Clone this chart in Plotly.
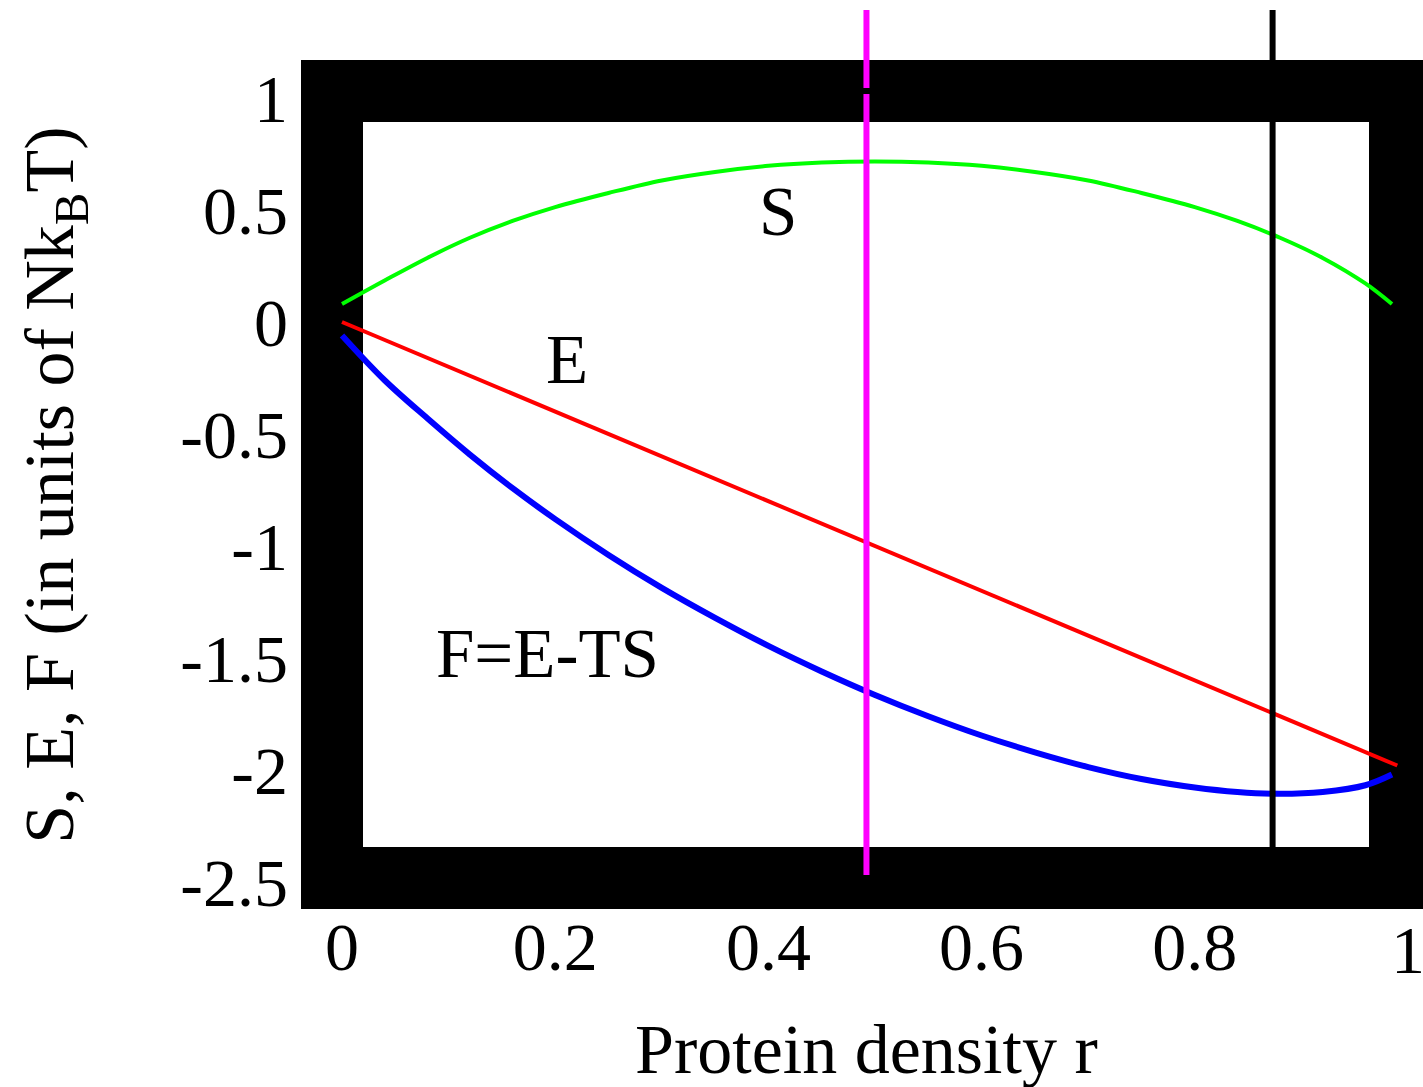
import plotly.graph_objects as go

# --- dados ---
rho = [0.0, 0.04, 0.08, 0.12, 0.16, 0.2, 0.25, 0.3, 0.35, 0.4, 0.45, 0.5,
       0.55, 0.6, 0.65, 0.7, 0.75, 0.8, 0.84, 0.88, 0.92, 0.96, 0.985]
S = [0.08, 0.185, 0.286, 0.376, 0.451, 0.513, 0.576, 0.632, 0.670, 0.697, 0.712, 0.717,
     0.712, 0.697, 0.670, 0.632, 0.576, 0.513, 0.451, 0.376, 0.286, 0.172, 0.08]
F = [-0.06, -0.26, -0.43, -0.592, -0.742, -0.880, -1.040, -1.187, -1.321, -1.446, -1.560, -1.665,
     -1.760, -1.846, -1.921, -1.987, -2.040, -2.078, -2.098, -2.106, -2.098, -2.068, -2.02]
rho_E = [0.0, 0.25, 0.5, 0.75, 0.99]
E = [0.0, -0.50, -1.00, -1.50, -1.98]

rho_magenta = 0.492
rho_black = 0.873

x_ticks = [0, 0.2, 0.4, 0.6, 0.8, 1]
x_labels = ["0", "0.2", "0.4", "0.6", "0.8", "1"]
y_ticks = [1, 0.5, 0, -0.5, -1, -1.5, -2, -2.5]
y_labels = ["1", "0.5", "0", "-0.5", "-1", "-1.5", "-2", "-2.5"]

FONT = "Liberation Serif"

fig = go.Figure()

# curvas
fig.add_trace(go.Scatter(x=rho, y=S, mode='lines', line=dict(color='#00ff00', width=4, shape='spline')))
fig.add_trace(go.Scatter(x=rho_E, y=E, mode='lines', line=dict(color='#ff0000', width=4)))
fig.add_trace(go.Scatter(x=rho, y=F, mode='lines', line=dict(color='#0000ff', width=6, shape='spline')))

# moldura grossa preta
bx = 62 / 1122
by = 62 / 849
frame = [
    (0, 0, bx, 1),
    (1 - 54 / 1122, 0, 1, 1),
    (0, 1 - by, 1, 1),
    (0, 0, 1, by),
]
for x0, y0, x1, y1 in frame:
    fig.add_shape(type='rect', xref='paper', yref='paper', x0=x0, y0=y0, x1=x1, y1=y1,
                  fillcolor='black', line=dict(width=0), layer='below')

# linhas verticais
fig.add_shape(type='line', xref='x', yref='paper', x0=rho_black, x1=rho_black,
              y0=by, y1=1.0589, line=dict(color='black', width=6))
fig.add_shape(type='line', xref='x', yref='paper', x0=rho_magenta, x1=rho_magenta,
              y0=0.040, y1=0.960, line=dict(color='#ff00ff', width=6))
fig.add_shape(type='line', xref='x', yref='paper', x0=rho_magenta, x1=rho_magenta,
              y0=0.967, y1=1.0589, line=dict(color='#ff00ff', width=6))

# rótulos das curvas
for txt, xx, yy in [("S", 0.409, 0.49), ("E", 0.211, -0.17), ("F=E-TS", 0.193, -1.48)]:
    fig.add_annotation(x=xx, y=yy, text=txt, showarrow=False,
                       font=dict(family=FONT, size=69, color='black'))

# último rótulo do eixo x (cortado na borda, o plotly o esconderia)
fig.add_annotation(x=x_ticks[-1], xref='x', yref='paper', y=-0.0483, text=x_labels[-1],
                   xanchor='center', yanchor='middle', showarrow=False,
                   font=dict(family=FONT, size=68, color='black'))

# títulos dos eixos
fig.add_annotation(xref='paper', yref='paper', x=-0.219, y=0.499, textangle=-90,
                   xanchor='center', yanchor='middle',
                   text="S, E, F (in units of Nk<sub>B</sub>T)", showarrow=False,
                   font=dict(family=FONT, size=70, color='black'))
fig.add_annotation(xref='paper', yref='paper', x=0.5036, y=-0.166,
                   xanchor='center', yanchor='middle',
                   text="Protein density r", showarrow=False,
                   font=dict(family=FONT, size=70, color='black'))

fig.update_layout(
    width=1423, height=1087,
    margin=dict(l=301, r=0, t=60, b=178),
    paper_bgcolor='white', plot_bgcolor='white',
    showlegend=False,
    font=dict(family=FONT, size=68, color='black'),
    xaxis=dict(range=[-0.03846, 1.0141], showgrid=False, zeroline=False, showline=False,
               tickmode='array', tickvals=x_ticks[:-1], ticktext=x_labels[:-1], ticks='',
               ticklabelstandoff=-8, automargin=False),
    yaxis=dict(range=[-2.6205, 1.1696], showgrid=False, zeroline=False, showline=False,
               tickmode='array', tickvals=y_ticks, ticktext=y_labels, ticks='',
               ticklabelstandoff=12, automargin=False),
)

fig.write_html("out.html", config={'displayModeBar': False},
               post_script="document.body.style.margin='0';")
